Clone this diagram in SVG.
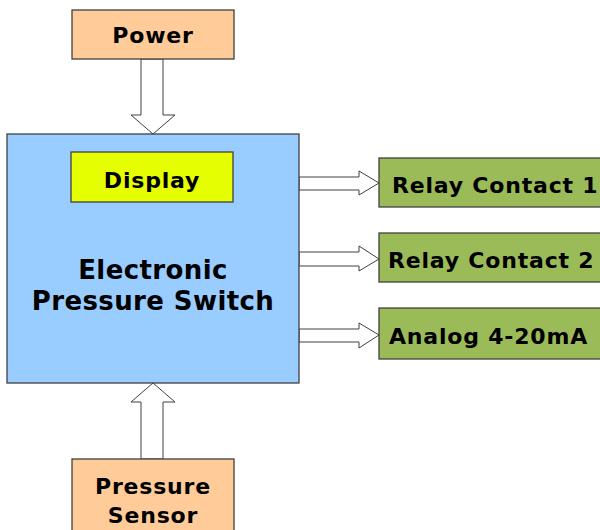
<svg xmlns="http://www.w3.org/2000/svg" width="600" height="530" viewBox="0 0 600 530">
<style>
.box{stroke:#404040;stroke-width:1.3}
.peach{fill:#FFCC99}
.blue{fill:#99CCFF}
.yellow{fill:#E6FF00}
.green{fill:#9BBB59}
.arrow{fill:#FFFFFF;stroke:#404040;stroke-width:1}
text{font-family:"DejaVu Sans",Verdana,sans-serif;font-weight:bold;fill:#000}
.t20{font-size:22px;letter-spacing:0.8px}
.t24{font-size:26px;letter-spacing:0.4px}
</style>
<rect width="600" height="530" fill="#FFFFFF"/>
<g id="connectors">
<polygon class="arrow" points="141,59 163,59 163,115 175,115 153,134 131,115 141,115"/>
<polygon class="arrow" points="141,459 163,459 163,402 175,402 153,383 131,402 141,402"/>
<polygon class="arrow" points="299,177 359,177 359,171 379,183 359,195 359,190 299,190"/>
<polygon class="arrow" points="299,252 359,252 359,246 379,259 359,271 359,266 299,266"/>
<polygon class="arrow" points="299,329 359,329 359,323 379,335 359,348 359,342 299,342"/>
</g>
<g id="power">
<rect class="box peach" x="72" y="10" width="162" height="49"/>
<text class="t20" x="153" y="43" text-anchor="middle">Power</text>
</g>
<g id="switch">
<rect class="box blue" x="7" y="134" width="292" height="249"/>
<text class="t24" x="153" y="279" text-anchor="middle">Electronic</text>
<text class="t24" x="153" y="310" text-anchor="middle">Pressure Switch</text>
</g>
<g id="display">
<rect class="box yellow" x="71" y="152" width="162" height="50"/>
<text class="t20" x="152" y="188" text-anchor="middle">Display</text>
</g>
<g id="relay1">
<rect class="box green" x="379" y="158" width="230" height="49"/>
<text class="t20" x="392" y="193">Relay Contact 1</text>
</g>
<g id="relay2">
<rect class="box green" x="379" y="233" width="230" height="49"/>
<text class="t20" x="388" y="268">Relay Contact 2</text>
</g>
<g id="analog">
<rect class="box green" x="379" y="308" width="230" height="51"/>
<text class="t20" x="389" y="344">Analog 4-20mA</text>
</g>
<g id="sensor">
<rect class="box peach" x="72" y="459" width="162" height="80"/>
<text class="t20" x="153" y="494" text-anchor="middle">Pressure</text>
<text class="t20" x="153" y="523" text-anchor="middle">Sensor</text>
</g>
</svg>
